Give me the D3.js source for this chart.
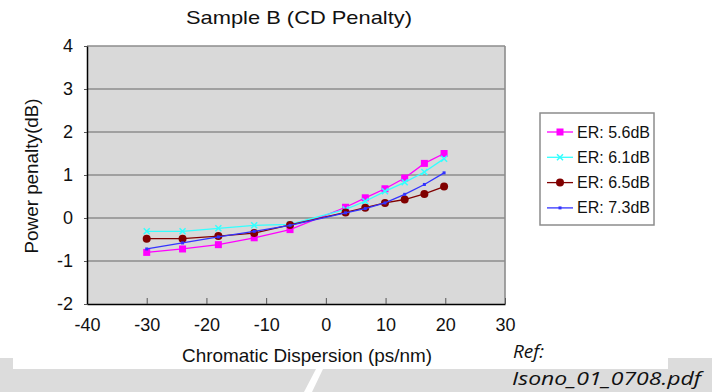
<!DOCTYPE html>
<html><head><meta charset="utf-8">
<script src="https://cdn.jsdelivr.net/npm/d3@7"></script>
<style>
html,body{margin:0;padding:0;background:#fff;}
svg{display:block;}
text{font-family:"Liberation Sans",Arial,sans-serif;fill:#111;}
</style></head>
<body>
<svg id="chart" width="712" height="392"></svg>
<script>
const title = "Sample B (CD Penalty)";
const xTitle = "Chromatic Dispersion (ps/nm)";
const yTitle = "Power penalty(dB)";
const xTicks = [-40,-30,-20,-10,0,10,20,30];
const yTicks = [-2,-1,0,1,2,3,4];
const cd = [-30,-24,-18,-12,-6,3.3,6.6,9.9,13.2,16.5,19.8];
const seriesNames = ["ER: 5.6dB","ER: 6.1dB","ER: 6.5dB","ER: 7.3dB"];
const er56 = [-0.80,-0.72,-0.62,-0.46,-0.27,0.25,0.47,0.68,0.93,1.27,1.50];
const er61 = [-0.31,-0.31,-0.24,-0.17,-0.15,0.20,0.39,0.62,0.83,1.07,1.38];
const er65 = [-0.48,-0.48,-0.42,-0.35,-0.16,0.13,0.24,0.35,0.43,0.56,0.73];
const er73 = [-0.72,-0.58,-0.44,-0.31,-0.17,0.12,0.22,0.35,0.55,0.78,1.05];
const colors = ["#ff00ff","#33ffff","#800000","#3333ff"];
const markers = ["square","cross","circle","dot"];

const series = [er56,er61,er65,er73].map((v,i)=>({name:seriesNames[i],color:colors[i],marker:markers[i],values:v.map((y,j)=>({x:cd[j],y:y}))}));

const svg = d3.select("#chart");
const L=87,R=505,T=46,B=304;
const x = d3.scaleLinear().domain([-40,30]).range([L,R]);
const y = d3.scaleLinear().domain([-2,4]).range([B,T]);
const fmt = d => String(d);

// bottom gray band
svg.append("path").attr("fill","#dcdcdc")
  .attr("d","M0,358 L13,358 L13,369 L668,369 L668,358 L712,358 L712,392 L0,392 Z");
svg.append("path").attr("fill","#fff").attr("d","M316,369 L323,369 L312,392 L304,392 Z");

// title
svg.append("text").attr("x",299).attr("y",24).attr("text-anchor","middle")
  .attr("textLength",226).attr("lengthAdjust","spacingAndGlyphs")
  .style("font-size","19px").text(title);

// plot background
svg.append("rect").attr("x",L).attr("y",T).attr("width",R-L).attr("height",B-T).attr("fill","#d9d9d9");
// gridlines
svg.append("g").selectAll("line").data(yTicks.filter(d=>d>-2)).join("line")
  .attr("x1",L).attr("x2",R).attr("y1",d=>y(d)).attr("y2",d=>y(d))
  .attr("stroke","#8c8c8c").attr("stroke-width",1.6);
// right border
svg.append("line").attr("x1",R).attr("x2",R).attr("y1",T).attr("y2",B).attr("stroke","#8c8c8c").attr("stroke-width",1.6);

// axes
const xAxis = d3.axisBottom(x).tickValues(xTicks).tickSizeInner(-6).tickSizeOuter(0).tickPadding(14).tickFormat(fmt);
const gx = svg.append("g").attr("transform",`translate(0,${B})`).call(xAxis);
gx.select(".domain").attr("stroke","#000").attr("stroke-width",1.5);
gx.selectAll(".tick line").attr("stroke","#555").attr("stroke-width",1);
gx.selectAll("text").style("font-size","18px").style("font-family","'Liberation Sans',Arial,sans-serif").attr("fill","#111");

const yAxis = d3.axisLeft(y).tickValues(yTicks).tickSizeInner(3).tickSizeOuter(0).tickPadding(11).tickFormat(fmt);
const gy = svg.append("g").attr("transform",`translate(${L},0)`).call(yAxis);
gy.select(".domain").attr("stroke","#000").attr("stroke-width",1.5);
gy.selectAll(".tick line").attr("stroke","#555");
gy.selectAll("text").style("font-size","18px").style("font-family","'Liberation Sans',Arial,sans-serif").attr("fill","#111");

// axis titles
svg.append("text").attr("x",307).attr("y",362).attr("text-anchor","middle")
  .attr("textLength",250).attr("lengthAdjust","spacingAndGlyphs")
  .style("font-size","18.5px").text(xTitle);
svg.append("text").attr("transform","translate(38,176) rotate(-90)").attr("text-anchor","middle")
  .attr("textLength",155).attr("lengthAdjust","spacingAndGlyphs")
  .style("font-size","18px").text(yTitle);

// lines
const line = d3.line().x(d=>x(d.x)).y(d=>y(d.y));
function drawMarker(g, m, color, px, py){
  if(m==="square") g.append("rect").attr("x",px-3.5).attr("y",py-3.5).attr("width",7).attr("height",7).attr("fill",color);
  else if(m==="cross") g.append("path").attr("d",`M${px-3},${py-3}L${px+3},${py+3}M${px-3},${py+3}L${px+3},${py-3}`).attr("stroke",color).attr("stroke-width",1.5);
  else if(m==="circle") g.append("circle").attr("cx",px).attr("cy",py).attr("r",4).attr("fill",color);
  else g.append("rect").attr("x",px-1.5).attr("y",py-1.5).attr("width",3).attr("height",3).attr("fill",color);
}
series.forEach(s=>{
  const g = svg.append("g");
  g.append("path").datum(s.values).attr("d",line).attr("fill","none").attr("stroke",s.color).attr("stroke-width",1.3);
  s.values.forEach(d=>drawMarker(g,s.marker,s.color,x(d.x),y(d.y)));
});

// legend
const lg = svg.append("g");
lg.append("rect").attr("x",540).attr("y",113).attr("width",114).attr("height",112).attr("fill","#fff").attr("stroke","#8c8c8c").attr("stroke-width",1.5);
series.forEach((s,i)=>{
  const cy = 132 + i*25.3;
  lg.append("line").attr("x1",547).attr("x2",573).attr("y1",cy).attr("y2",cy).attr("stroke",s.color).attr("stroke-width",1.3);
  drawMarker(lg, s.marker, s.color, 560, cy);
  lg.append("text").attr("x",577).attr("y",cy+5.5).attr("textLength",73).attr("lengthAdjust","spacingAndGlyphs")
    .style("font-size","16px").text(s.name);
});

// reference note
svg.append("text").attr("x",513).attr("y",358).style("font-family","'Open Sans',sans-serif").style("font-style","italic").style("font-size","19px").attr("fill","#000").text("Ref:");
svg.append("text").attr("x",512).attr("y",385).attr("textLength",189).attr("lengthAdjust","spacingAndGlyphs")
  .style("font-family","'Open Sans',sans-serif").style("font-style","italic").style("font-size","19px").attr("fill","#000").text("Isono_01_0708.pdf");
</script>
</body></html>
